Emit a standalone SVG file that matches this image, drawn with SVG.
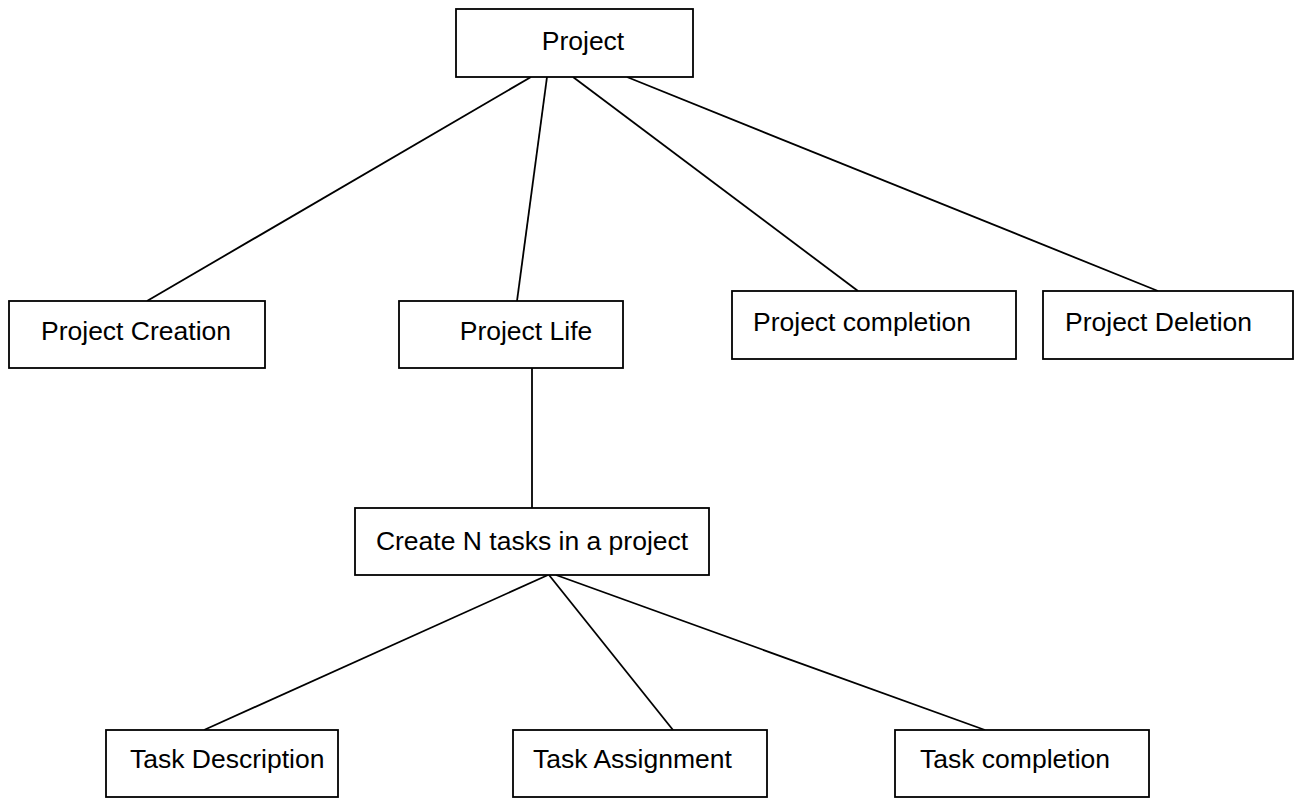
<svg xmlns="http://www.w3.org/2000/svg" width="1295" height="798" viewBox="0 0 1295 798">
  <style>
    .box { fill: #ffffff; stroke: #000000; stroke-width: 1.8; }
    .lbl { font-family: "Liberation Sans", Arial, sans-serif; font-size: 26.5px; fill: #000000; }
    .link { stroke: #000000; stroke-width: 1.8; fill: none; }
  </style>
  <rect width="1295" height="798" fill="#ffffff"/>

  <!-- connectors -->
  <g id="connectors">
    <line class="link" x1="531" y1="77" x2="147" y2="301"/>
    <line class="link" x1="547" y1="77" x2="517" y2="301"/>
    <line class="link" x1="573" y1="77" x2="858" y2="291"/>
    <line class="link" x1="627" y1="77" x2="1158" y2="291"/>
    <line class="link" x1="532" y1="368" x2="532" y2="508"/>
    <line class="link" x1="548" y1="575" x2="204" y2="730"/>
    <line class="link" x1="549" y1="575" x2="673" y2="730"/>
    <line class="link" x1="556" y1="575" x2="985" y2="730"/>
  </g>

  <!-- nodes -->
  <g id="project">
    <rect class="box" x="456" y="9" width="237" height="68"/>
    <text class="lbl" x="583" y="50" text-anchor="middle">Project</text>
  </g>
  <g id="project-creation">
    <rect class="box" x="9" y="301" width="256" height="67"/>
    <text class="lbl" x="41" y="340">Project Creation</text>
  </g>
  <g id="project-life">
    <rect class="box" x="399" y="301" width="224" height="67"/>
    <text class="lbl" x="526" y="340" text-anchor="middle">Project Life</text>
  </g>
  <g id="project-completion">
    <rect class="box" x="732" y="291" width="284" height="68"/>
    <text class="lbl" x="753" y="331">Project completion</text>
  </g>
  <g id="project-deletion">
    <rect class="box" x="1043" y="291" width="250" height="68"/>
    <text class="lbl" x="1065" y="331">Project Deletion</text>
  </g>
  <g id="create-tasks">
    <rect class="box" x="355" y="508" width="354" height="67"/>
    <text class="lbl" x="532" y="550" text-anchor="middle">Create N tasks in a project</text>
  </g>
  <g id="task-description">
    <rect class="box" x="106" y="730" width="232" height="67"/>
    <text class="lbl" x="130" y="768">Task Description</text>
  </g>
  <g id="task-assignment">
    <rect class="box" x="513" y="730" width="254" height="67"/>
    <text class="lbl" x="533" y="768">Task Assignment</text>
  </g>
  <g id="task-completion">
    <rect class="box" x="895" y="730" width="254" height="67"/>
    <text class="lbl" x="920" y="768">Task completion</text>
  </g>
</svg>
